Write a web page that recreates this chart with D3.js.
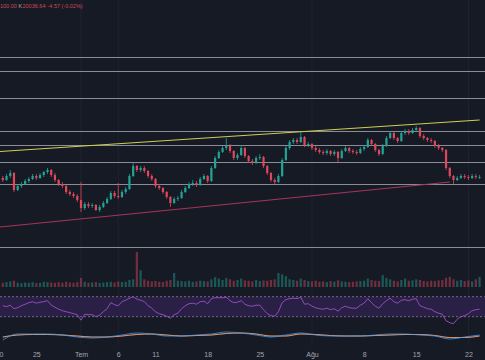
<!DOCTYPE html>
<html><head><meta charset="utf-8">
<script src="https://cdn.jsdelivr.net/npm/d3@7"></script>
<style>html,body{margin:0;padding:0;background:#161a25;overflow:hidden}</style>
</head><body><svg id="c" width="485" height="360"></svg>
<script>
// ---- data (12h candles, arbitrary price units) ----
const firstCandle = Date.UTC(2023,5,20,12);
const firstOpen = 122;
const closes = [120,124,127,110,114,116,119,121,124,122,
125,128,130,125,120,116,114,108,106,104,
100,92,96,94,95,90,93,97,101,107,
104,103,108,111,124,134,130,132,129,124,
121,114,112,108,103,97,101,102,108,112,
116,117,115,121,124,119,132,142,148,152,
154,149,142,145,152,144,139,137,142,143,
134,127,120,118,124,140,152,158,160,158,
163,155,156,152,150,148,147,149,146,148,
142,149,152,149,148,147,151,153,160,156,
150,146,154,162,167,162,159,167,169,167,
170,172,164,162,160,159,154,152,150,132,
124,120,122,124,123,122,124,123,123];
const highs = [124,126,130,128,116,118,121,123,126,126,
127,129,132,131,127,121,118,115,110,108,
106,118,98,98,97,96,95,99,103,109,
109,117,110,113,126,137,135,134,134,130,
126,122,116,113,109,104,103,104,110,114,
118,120,119,123,126,125,134,144,150,154,
162,156,150,147,155,153,145,141,144,146,
144,135,128,122,126,142,154,160,162,162,
168,164,158,157,154,152,150,151,150,150,
149,151,154,153,151,150,153,155,162,161,
157,151,156,164,169,168,163,169,171,171,
172,174,173,166,163,162,160,156,153,151,
133,125,124,126,126,125,126,126,125];
const lows = [118,119,122,108,109,112,115,117,120,120,
121,123,126,123,118,114,112,106,104,102,
98,88,90,92,92,89,88,92,96,100,
102,101,102,106,110,123,128,128,127,122,
119,112,110,106,101,93,96,99,101,107,
111,114,113,114,120,117,118,131,141,147,
150,147,140,140,144,142,137,135,136,140,
132,125,118,116,117,123,139,150,156,156,
157,153,153,150,148,146,145,145,144,144,
138,141,148,147,146,145,146,149,152,154,
148,144,145,153,161,160,157,158,165,165,
166,168,162,160,158,157,152,150,148,130,
122,116,119,121,121,120,121,121,121];
const volumes = [12,14,16,18,12,11,13,12,14,11,
12,15,14,13,12,14,12,15,13,12,
14,26,15,12,13,14,12,13,14,15,
13,16,14,15,20,22,100,48,22,18,
16,17,15,14,18,20,40,18,17,16,
18,15,16,18,17,16,22,28,24,20,
26,22,18,20,24,19,18,16,20,17,
19,18,20,22,40,36,31,22,20,18,
24,20,17,16,18,15,16,14,17,15,
19,16,15,14,15,16,17,18,24,20,
18,17,34,26,22,18,16,20,24,18,
19,22,20,17,16,18,17,19,20,26,
29,22,18,20,17,19,16,22,29];
const rsi = [52,50,53,46,48,52,55,58,60,57,
59,60,62,53,49,45,42,40,38,36,
34,23,35,34,34,30,33,40,46,58,
54,52,60,63,67,70,65,63,60,52,
47,40,36,34,31,27,34,37,46,52,
56,57,55,60,61,56,66,68,68,68,
69,62,58,59,62,55,52,51,53,53,
44,36,32,31,40,58,64,66,67,66,
69,55,56,51,48,46,45,47,44,46,
41,48,51,48,47,47,53,57,66,58,
51,47,56,62,67,60,57,63,64,62,
65,66,52,49,46,45,40,37,35,22,
18,16,25,30,32,36,42,44,45];
// MACD sampled every 4 candles
const macd = [-4,2,2,2,1,-1,-2,-1,1,3,2,0,0,1,2,4,3,1,-1,1,3,1,0,0,0,1,2,2,1,0,-3,-1,1];
const signal = [-1,1,1.5,1.5,1,0,-1,-1,0,1.5,2,1,0,0.5,1,2.5,3,2,0,0,2,1.5,0.5,0,0,0.5,1,1.5,1.5,0.5,-1.5,-1.5,0];
const levels = [243,229,202,169,155,138,116,53];
const upperTrend = [{d:Date.UTC(2023,5,20,3),p:148.5},{d:Date.UTC(2023,7,23,12),p:180}];
const lowerTrend = [{d:Date.UTC(2023,5,20,3),p:73},{d:Date.UTC(2023,7,19,12),p:118}];
const tickDates = [Date.UTC(2023,5,20),Date.UTC(2023,5,25),Date.UTC(2023,6,1),Date.UTC(2023,6,6),Date.UTC(2023,6,11),Date.UTC(2023,6,18),Date.UTC(2023,6,25),Date.UTC(2023,7,1),Date.UTC(2023,7,8),Date.UTC(2023,7,15),Date.UTC(2023,7,22)];
const tickLabels = ["20","25","Tem","6","11","18","25","Ağu","8","15","22"];
const gridDates = [Date.UTC(2023,6,1),Date.UTC(2023,6,6),Date.UTC(2023,7,1),Date.UTC(2023,7,22)];
const headerParts = [{t:"100.00",c:"#d0485a"},{t:"K",c:"#a3a6af"},{t:"20036.64",c:"#d0485a"},{t:"-4.57 (-0.02%)",c:"#d0485a"}];
const headerX = [0,18.5,22.5,47.5];

// ---- build ----
const dates = d3.utcHour.range(new Date(firstCandle), new Date(firstCandle + closes.length*12*3600e3), 12);
const candles = closes.map((c,i)=>({d:dates[i], o: i===0?firstOpen:closes[i-1], c, h:highs[i], l:lows[i], v:volumes[i], r:rsi[i]}));
const mdates = dates.filter((d,i)=>i%4===0);

const svg = d3.select("#c");
svg.append("rect").attr("width",485).attr("height",360).attr("fill","#161a25");

const x = d3.scaleUtc().domain([new Date(Date.UTC(2023,5,20,3)), new Date(Date.UTC(2023,7,24,5,30))]).range([0,485]);
const y = d3.scaleLinear().domain([40,260]).range([260,40]);
const yv = d3.scaleLinear().domain([0,100]).range([287,252]);
const yr = d3.scaleLinear().domain([30,70]).range([316.7,296.7]);
const ym = d3.scaleLinear().domain([-6,6]).range([342,330]);

const up="#22a394", dn="#e0485a";

// grid
svg.append("g").selectAll("line").data(gridDates).join("line")
  .attr("x1",d=>x(d)).attr("x2",d=>x(d)).attr("y1",0).attr("y2",345)
  .attr("stroke","#1f2332").attr("stroke-width",1);

// levels
svg.append("g").selectAll("line").data(levels).join("line")
  .attr("x1",0).attr("x2",485).attr("y1",d=>Math.round(y(d))+0.5).attr("y2",d=>Math.round(y(d))+0.5)
  .attr("stroke","#8a8d97").attr("stroke-width",1);

// volume
const bw = 2.2;
svg.append("g").selectAll("rect").data(candles).join("rect")
  .attr("x",d=>x(d.d)-bw/2).attr("width",bw)
  .attr("y",d=>yv(d.v)).attr("height",d=>yv(0)-yv(d.v))
  .attr("fill",d=>d.c>=d.o?up:dn).attr("opacity",0.45);

// trendlines
const tl = d3.line().x(d=>x(d.d)).y(d=>y(d.p));
svg.append("path").attr("d",tl(upperTrend)).attr("stroke","#cfcf4e").attr("stroke-width",1.1).attr("fill","none");
svg.append("path").attr("d",tl(lowerTrend)).attr("stroke","#a8345a").attr("stroke-width",1.1).attr("fill","none");

// candles
const cg = svg.append("g");
cg.selectAll("line").data(candles).join("line")
  .attr("x1",d=>x(d.d)).attr("x2",d=>x(d.d)).attr("y1",d=>y(d.h)).attr("y2",d=>y(d.l))
  .attr("stroke",d=>d.c>=d.o?up:dn).attr("stroke-width",0.8);
cg.selectAll("rect").data(candles).join("rect")
  .attr("x",d=>x(d.d)-bw/2).attr("width",bw)
  .attr("y",d=>y(Math.max(d.o,d.c))).attr("height",d=>Math.max(0.8,Math.abs(y(d.o)-y(d.c))))
  .attr("fill",d=>d.c>=d.o?up:dn);

// RSI pane
svg.append("rect").attr("x",0).attr("width",485).attr("y",yr(70)).attr("height",yr(30)-yr(70)).attr("fill","#2a1f44");
svg.append("g").selectAll("line").data([70,30]).join("line")
  .attr("x1",0).attr("x2",485).attr("y1",d=>yr(d)).attr("y2",d=>yr(d))
  .attr("stroke","#8b7aa6").attr("stroke-width",0.8).attr("stroke-dasharray","2,2");
svg.append("path").datum(candles).attr("fill","none").attr("stroke","#9a52c9").attr("stroke-width",0.9)
  .attr("d",d3.line().x(d=>x(d.d)).y(d=>yr(d.r)));

// MACD pane
const ml = d3.line().curve(d3.curveMonotoneX).x((d,i)=>x(mdates[i])).y(d=>ym(d));
svg.append("path").datum(signal).attr("fill","none").attr("stroke","#ff8a3d").attr("stroke-width",0.9).attr("d",ml);
svg.append("path").datum(macd).attr("fill","none").attr("stroke","#3d8ad9").attr("stroke-width",0.9).attr("d",ml);
svg.append("path").datum(signal).attr("fill","none").attr("stroke","#c9ccd3").attr("stroke-width",0.5).attr("opacity",0.6).attr("d",ml);

// axis
const ax = svg.append("g").attr("transform","translate(0,350)")
  .call(d3.axisBottom(x).tickValues(tickDates.map(d=>new Date(d))).tickFormat((d,i)=>tickLabels[i]).tickSize(0).tickPadding(2));
ax.select(".domain").remove();
ax.selectAll("text").attr("fill","#a3a6af").attr("font-size","7px").attr("font-family","Liberation Sans, Arial, sans-serif");

// header
svg.append("g").selectAll("text").data(headerParts).join("text")
  .attr("x",(d,i)=>headerX[i]).attr("y",8).attr("font-size","5.5px")
  .attr("font-family","Liberation Sans, Arial, sans-serif")
  .attr("fill",d=>d.c).text(d=>d.t);
</script></body></html>
